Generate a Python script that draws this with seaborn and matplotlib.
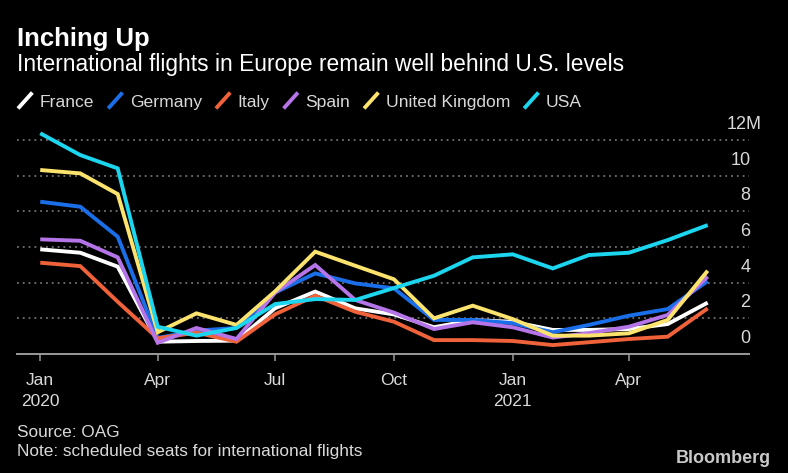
#! /usr/bin/env python3
"""Inching Up: monthly international seats, Europe vs USA."""

import pandas as pd
import matplotlib
matplotlib.use('Agg')
import matplotlib.pyplot as plt
import matplotlib.dates as mdates
import seaborn as sns
from matplotlib.legend_handler import HandlerBase
from matplotlib.lines import Line2D
from matplotlib.transforms import ScaledTranslation

months = ['2020-01-01', '2020-02-01', '2020-03-01', '2020-04-01', '2020-05-01', '2020-06-01',
          '2020-07-01', '2020-08-01', '2020-09-01', '2020-10-01', '2020-11-01', '2020-12-01',
          '2021-01-01', '2021-02-01', '2021-03-01', '2021-04-01', '2021-05-01', '2021-06-01']

france = [5.87, 5.68, 4.90, 0.69, 0.73, 0.75, 2.57, 3.50, 2.56, 2.22, 1.50, 1.90,
          1.81, 1.35, 1.35, 1.40, 1.68, 2.88]
germany = [8.54, 8.26, 6.58, 0.90, 1.31, 1.46, 3.45, 4.52, 3.96, 3.68, 1.91, 1.91,
           1.73, 1.22, 1.63, 2.15, 2.52, 4.09]
italy = [5.12, 4.93, 2.93, 0.88, 1.20, 0.69, 2.23, 3.27, 2.37, 1.81, 0.78, 0.78,
         0.73, 0.50, 0.66, 0.84, 0.97, 2.56]
spain = [6.43, 6.35, 5.42, 0.63, 1.46, 0.84, 3.45, 4.99, 3.03, 2.32, 1.40, 1.78,
         1.50, 0.92, 1.17, 1.53, 2.19, 4.34]
uk = [10.32, 10.13, 8.97, 1.22, 2.28, 1.63, 3.52, 5.74, 4.95, 4.19, 2.00, 2.71,
      1.96, 1.03, 1.03, 1.16, 1.91, 4.67]
usa = [12.38, 11.16, 10.41, 1.53, 1.03, 1.46, 2.80, 3.08, 3.03, 3.70, 4.39, 5.42,
       5.59, 4.80, 5.55, 5.68, 6.39, 7.23]

countries = ['France', 'Germany', 'Italy', 'Spain', 'United Kingdom', 'USA']
colors = ['#ffffff', '#1a6fe8', '#f0623a', '#b574e8', '#fbe36e', '#1bd6ee']

x_ticks = ['2020-01-01', '2020-04-01', '2020-07-01', '2020-10-01', '2021-01-01', '2021-04-01']
x_labels = ['Jan\n2020', 'Apr', 'Jul', 'Oct', 'Jan\n2021', 'Apr']
y_ticks = [0, 2, 4, 6, 8, 10, 12]
y_labels = ['0', '2', '4', '6', '8', '10', '12M']

W, H = 788, 473
TEXT = '#d9d9d9'
GREY = '#9a9a9a'


class SlashHandler(HandlerBase):
    """Legend key drawn as a short diagonal stroke"""

    def create_artists(self, legend, orig_handle, xdescent, ydescent, width, height, fontsize, trans):
        line = Line2D([0, width], [-0.15 * height, 1.15 * height],
                      color=orig_handle.get_color(), lw=orig_handle.get_linewidth(),
                      solid_capstyle='butt', transform=trans)
        return [line]


sns.set_theme(style='dark')
plt.rcParams['font.family'] = ['Liberation Sans', 'DejaVu Sans']

df = pd.DataFrame({'date': pd.to_datetime(months), 'France': france, 'Germany': germany, 'Italy': italy,
                   'Spain': spain, 'United Kingdom': uk, 'USA': usa})
long_df = df.melt(id_vars='date', var_name='country', value_name='seats')

fig = plt.figure(figsize=(W / 100, H / 100), dpi=100, facecolor='black')
ax = fig.add_axes([17 / W, 1 - 354 / H, 732 / W, 224 / H], facecolor='black')

sns.lineplot(data=long_df, x='date', y='seats', hue='country', hue_order=countries,
             palette=colors, linewidth=2.8, legend=False, errorbar=None, ax=ax)
for line in ax.get_lines():
    line.set_solid_joinstyle('miter')
    line.set_solid_capstyle('butt')

ax.set_xlim(pd.Timestamp('2019-12-14'), pd.Timestamp('2021-07-03'))
ax.set_ylim(0, 224 / 17.83)
ax.set_xlabel('')
ax.set_ylabel('')

for side in ['top', 'left', 'right']:
    ax.spines[side].set_visible(False)
ax.spines['bottom'].set_color(GREY)
ax.spines['bottom'].set_linewidth(1.4)

ax.set_xticks([mdates.date2num(pd.Timestamp(t)) for t in x_ticks])
ax.set_xticklabels(x_labels, color=TEXT, fontsize=12.5, linespacing=1.55)
ax.tick_params(axis='x', bottom=True, length=5, width=1.1, color=GREY, pad=8.5)

ax.yaxis.tick_right()
ax.set_yticks(y_ticks)
ax.set_yticklabels(y_labels, color=TEXT, fontsize=13)
ax.tick_params(axis='y', right=False, length=0, pad=1)
for value, label in zip(y_ticks, ax.get_yticklabels()):
    label.set_ha('right')
    label.set_va('bottom')
    # numbers sit above their gridline, M hangs past the right edge
    dx = 11 / 100 if value == 12 else 0
    label.set_transform(label.get_transform() + ScaledTranslation(dx, 7 / 100, fig.dpi_scale_trans))

ax.set_axisbelow(True)
ax.grid(False, axis='x')
ax.grid(True, axis='y', color='#858585', linestyle=(0, (1.2, 2.6)), linewidth=1.1)
ax.get_ygridlines()[0].set_visible(False)

handles = [Line2D([], [], color=c, lw=2.8) for c in colors]
fig.legend(handles, countries, handler_map={Line2D: SlashHandler()}, ncol=6, frameon=False,
           loc='center left', bbox_to_anchor=(18 / W, 1 - 102 / H), borderpad=0, borderaxespad=0,
           handlelength=0.82, handletextpad=0.42, columnspacing=0.8, labelcolor=TEXT,
           prop={'size': 12.6})

fig.text(17 / W, 1 - 39 / H, 'Inching Up', color='white', fontsize=18.5, fontweight='bold', va='center')
fig.text(17 / W, 1 - 65 / H, 'International flights in Europe remain well behind U.S. levels',
         color='white', fontsize=16.4, va='center')
fig.text(17 / W, 1 - 432 / H, 'Source: OAG', color=TEXT, fontsize=12.4, va='center')
fig.text(17 / W, 1 - 451 / H, 'Note: scheduled seats for international flights', color=TEXT,
         fontsize=12.4, va='center')
fig.text(771 / W, 1 - 458 / H, 'Bloomberg', color='#c8c8c8', fontsize=13, fontweight='bold',
         ha='right', va='center')

fig.savefig('out.png', dpi=100, facecolor='black')
